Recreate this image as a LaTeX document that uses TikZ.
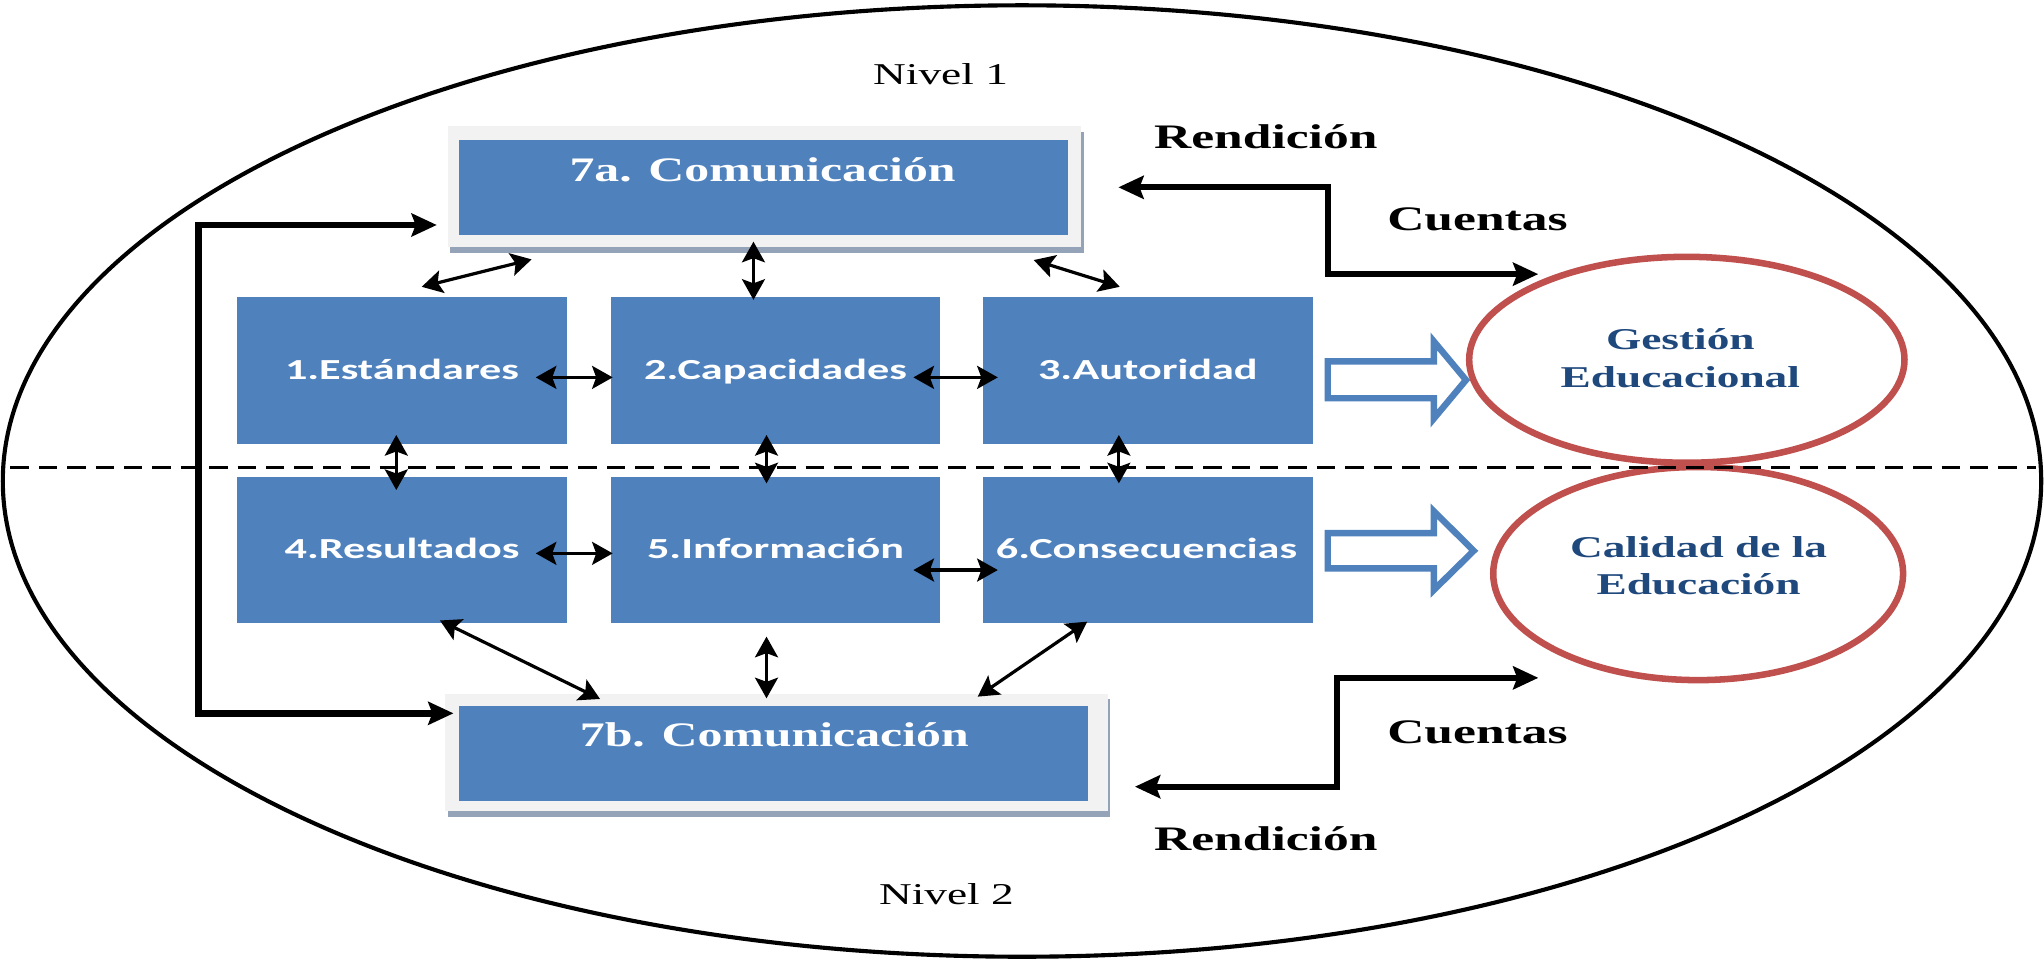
\documentclass[tikz,border=0pt]{standalone}
\usepackage{fontspec}
\usepackage{graphicx}
\setmainfont{Liberation Serif}
\newfontfamily\calfont{Carlito}
\usetikzlibrary{shapes.geometric,arrows.meta,calc,shadows}
\definecolor{boxblue}{HTML}{4F81BD}
\definecolor{framegray}{HTML}{F2F2F2}
\definecolor{shadowgray}{HTML}{95A3B8}
\definecolor{ovalred}{HTML}{C0504D}
\definecolor{ovaltext}{HTML}{1F497D}
\newcommand{\wideA}[1]{\scalebox{1.52}[1]{#1}}
\newcommand{\wideB}[1]{\scalebox{1.5}[1]{#1}}
\newcommand{\wideC}[1]{\scalebox{1.45}[1]{#1}}
\begin{document}
\begin{tikzpicture}[x=0.02cm,y=-0.02cm,
  blk/.style={fill=boxblue, draw=none, minimum width=5.06cm, minimum height=2.25cm, inner sep=0pt, outer sep=0pt},
  blktext/.style={text=white, font=\calfont\bfseries\fontsize{12.7}{15}\selectfont, anchor=base, inner sep=0pt},
  greyframe/.style={fill=framegray, draw=none, inner sep=0pt, outer sep=0pt,
     drop shadow={shadow xshift=1pt, shadow yshift=-2.5pt, fill=shadowgray, opacity=1}},
  bluefill/.style={fill=boxblue, draw=none, inner sep=0pt, outer sep=0pt},
  comtext/.style={text=white, font=\bfseries\fontsize{15}{18}\selectfont, anchor=base, inner sep=0pt},
  oval/.style={ellipse, draw=ovalred, line width=2.85pt, inner sep=0pt, outer sep=0pt},
  ovallabel/.style={text=ovaltext, font=\bfseries\fontsize{13.2}{16.3}\selectfont, align=center, anchor=base, inner sep=0pt},
  sidelabel/.style={font=\bfseries\fontsize{15}{18}\selectfont, anchor=base, inner sep=0pt},
  levellabel/.style={font=\fontsize{13.2}{16}\selectfont, anchor=base, inner sep=0pt},
  dbl/.style={{Stealth[length=9pt,width=10pt,inset=1.8pt]}-{Stealth[length=9pt,width=10pt,inset=1.8pt]}, line width=1.4pt},
  elbow/.style={{Stealth[length=11pt,width=10pt,inset=1.8pt]}-{Stealth[length=11pt,width=10pt,inset=1.8pt]}, line width=2.6pt, line join=miter},
  feedback/.style={{Stealth[length=11pt,width=10pt,inset=1.8pt]}-{Stealth[length=11pt,width=10pt,inset=1.8pt]}, line width=3pt, line join=miter},
  hollow/.style={draw=boxblue, fill=white, line width=2.8pt, line join=miter}]

\useasboundingbox (0,0) rectangle (1568,736);
\fill[white] (0,0) rectangle (1568,736);

% outer ellipse
\draw[line width=1.8pt] (784,369) ellipse [x radius=15.64cm, y radius=7.3cm];

% level labels
\node[levellabel] (n1) at (721.5,65.2) {\wideB{Nivel 1}};
\node[levellabel] (n2) at (726,694.2) {\wideB{Nivel 2}};

% communication frames
\node[greyframe, minimum width=9.72cm, minimum height=1.85cm] (f7a) at (586.5,143.25) {};
\node[bluefill, minimum width=9.34cm, minimum height=1.46cm] (c7a) at (585.5,143.85) {};
\node[comtext] (t7a) at (585,138.9) {\wideC{7a. Comunicación}};

\node[greyframe, minimum width=10.17cm, minimum height=1.8cm] (f7b) at (595.75,577) {};
\node[bluefill, minimum width=9.646cm, minimum height=1.452cm] (c7b) at (593.5,577.9) {};
\node[comtext] (t7b) at (594,572.3) {\wideC{7b. Comunicación}};

% six boxes
\node[blk] (b1) at (308.4,284.1) {};
\node[blk] (b2) at (594.9,284.1) {};
\node[blk] (b3) at (880.5,284.1) {};
\node[blk] (b4) at (308.4,421.9) {};
\node[blk] (b5) at (594.9,421.9) {};
\node[blk] (b6) at (880.5,421.9) {};
\node[blktext] (t1) at (308.4,291.5) {\wideA{1.Estándares}};
\node[blktext] (t2) at (594.9,291.5) {\wideA{2.Capacidades}};
\node[blktext] (t3) at (880.5,291.5) {\wideA{3.Autoridad}};
\node[blktext] (t4) at (308.4,428.3) {\wideA{4.Resultados}};
\node[blktext] (t5) at (594.9,428.3) {\wideA{5.Información}};
\node[blktext] (t6) at (879.5,428.3) {\wideA{6.Consecuencias}};

% outcome ellipses
\node[oval, minimum width=6.68cm, minimum height=3.16cm] (gest) at (1294,276) {};
\node[oval, minimum width=6.29cm, minimum height=3.27cm] (cal) at (1302.7,440) {};
\node[ovallabel] (tg) at (1289,297.1) {\wideB{Gestión}\\\wideB{Educacional}};
\node[ovallabel] (tc) at (1303,456.4) {\wideB{Calidad de la}\\\wideB{Educación}};

% dashed level separator
\draw[line width=1.5pt, dash pattern=on 8pt off 4.4pt] (8,358.5) -- (1562,358.5);

% hollow block arrows
\draw[hollow] (1018.5,277.2) -- (1100,277.2) -- (1100,262) -- (1124.6,291.5) -- (1100,321) -- (1100,305.5) -- (1018.5,305.5) -- cycle;
\draw[hollow] (1018.5,409) -- (1100,409) -- (1100,392.3) -- (1130.5,422.5) -- (1100,452.5) -- (1100,436) -- (1018.5,436) -- cycle;

% small double arrows
\draw[dbl] ($(b1.north)+(15.1,-7.85)$) -- ($(f7a.south)+(-178.7,9.5)$);
\draw[dbl] ($(f7a.south)+(-8.5,-4.1)$) -- ($(b2.north)+(-16.9,2.15)$);
\draw[dbl] ($(f7a.south)+(206.5,10)$) -- ($(b3.north)+(-21.5,-7.85)$);
\draw[dbl] ($(b1.east)+(-23.9,5.4)$) -- ($(b2.west)+(1.6,5.4)$);
\draw[dbl] ($(b2.east)+(-20.7,5.4)$) -- ($(b3.west)+(11.4,5.4)$);
\draw[dbl] ($(b1.south)+(-4.4,-6.65)$) -- ($(b4.north)+(-4.4,10.25)$);
\draw[dbl] ($(b2.south)+(-6.9,-6.65)$) -- ($(b5.north)+(-6.9,5.15)$);
\draw[dbl] ($(b3.south)+(-22.2,-6.65)$) -- ($(b6.north)+(-22.2,5.15)$);
\draw[dbl] ($(b4.east)+(-23.9,2.6)$) -- ($(b5.west)+(1.6,2.6)$);
\draw[dbl] ($(b5.east)+(-20.7,15.4)$) -- ($(b6.west)+(11.4,15.4)$);
\draw[dbl] ($(b4.south)+(29.1,-2.15)$) -- ($(f7b.north)+(-135.45,4.2)$);
\draw[dbl] ($(b5.south)+(-6.9,10.25)$) -- ($(f7b.north)+(-7.75,3.7)$);
\draw[dbl] ($(b6.south)+(-46.5,-1.25)$) -- ($(f7b.north)+(154.25,2.4)$);

% feedback loop on the left
\coordinate (fbx) at (152,0);
\coordinate (F1) at ($(f7a.west)+(-8.5,29.35)$);
\coordinate (F2) at ($(f7b.west)+(6.3,-29.8)$);
\draw[feedback] (F1) -- (F1 -| fbx) -- (F2 -| fbx) -- (F2);

% accountability elbows
\coordinate (elA) at (1019,0);
\coordinate (elB) at (1025.4,0);
\coordinate (E1) at ($(f7a.east)+(28.5,0.45)$);
\coordinate (E2) at ($(gest.west)+(53,-65.7)$);
\coordinate (E3) at ($(f7b.east)+(20.7,26.5)$);
\coordinate (E4) at ($(cal.west)+(34.6,80)$);
\draw[elbow] (E1) -- (E1 -| elA) |- (E2);
\draw[elbow] (E3) -- (E3 -| elB) |- (E4);

% side labels
\node[sidelabel] (r1) at (971,113.8) {\wideB{Rendición}};
\node[sidelabel] (c1) at (1133.4,177) {\wideB{Cuentas}};
\node[sidelabel] (c2) at (1133.4,570.2) {\wideB{Cuentas}};
\node[sidelabel] (r2) at (971,652.6) {\wideB{Rendición}};
\end{tikzpicture}
\end{document}
